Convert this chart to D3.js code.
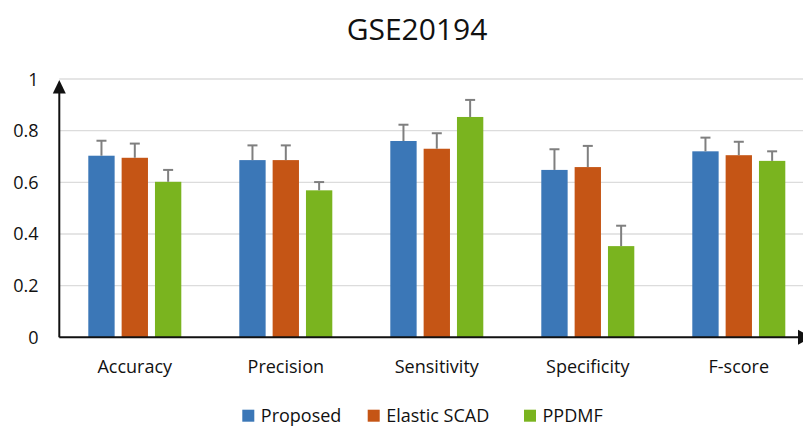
<!DOCTYPE html>
<html>
<head>
<meta charset="utf-8">
<script src="https://cdn.jsdelivr.net/npm/d3@7"></script>
<style>
  body { margin: 0; background: #fff; }
  svg { display: block; font-family: "Open Sans", sans-serif; }
</style>
</head>
<body>
<svg id="chart" width="803" height="426"></svg>
<script>
// Grouped bar chart with error bars - GSE20194

const categories = ['Accuracy', 'Precision', 'Sensitivity', 'Specificity', 'F-score'];
const seriesNames = ['Proposed', 'Elastic SCAD', 'PPDMF'];
const seriesColors = ['#3b77b7', '#c55515', '#7ab41f'];

const proposedValues = [0.703, 0.686, 0.760, 0.648, 0.720];
const elasticValues = [0.695, 0.686, 0.730, 0.659, 0.705];
const ppdmfValues = [0.602, 0.569, 0.853, 0.353, 0.683];

const proposedErrors = [0.058, 0.057, 0.063, 0.080, 0.053];
const elasticErrors = [0.055, 0.057, 0.060, 0.082, 0.052];
const ppdmfErrors = [0.046, 0.032, 0.066, 0.079, 0.037];

const yTicks = [0, 0.2, 0.4, 0.6, 0.8, 1];

const values = [proposedValues, elasticValues, ppdmfValues];
const errors = [proposedErrors, elasticErrors, ppdmfErrors];

const svg = d3.select('#chart');

const x0 = d3.scaleBand()
  .domain(categories)
  .range([59.3, 814.3])
  .paddingInner(0)
  .paddingOuter(0);

const x1 = d3.scaleBand()
  .domain(seriesNames)
  .range([29, x0.bandwidth() - 29])
  .paddingInner(0.21)
  .paddingOuter(0);

const y = d3.scaleLinear()
  .domain([0, 1])
  .range([337.3, 79]);

// title
svg.append('text')
  .attr('x', 417)
  .attr('y', 40)
  .attr('text-anchor', 'middle')
  .attr('font-size', 30)
  .attr('fill', '#111')
  .text('GSE20194');

// gridlines
svg.append('g')
  .selectAll('line')
  .data(yTicks.filter(d => d > 0))
  .join('line')
  .attr('x1', 59.3)
  .attr('x2', 803)
  .attr('y1', d => y(d))
  .attr('y2', d => y(d))
  .attr('stroke', '#dcdcdc')
  .attr('stroke-width', 1.3);

// y tick labels
svg.append('g')
  .selectAll('text')
  .data(yTicks)
  .join('text')
  .attr('x', 38.5)
  .attr('y', d => y(d) + 6.5)
  .attr('text-anchor', 'end')
  .attr('font-size', 18)
  .attr('fill', '#111')
  .text(d => d === 0 || d === 1 ? String(d) : d.toFixed(1));

// bars
const groups = svg.append('g')
  .selectAll('g')
  .data(categories)
  .join('g')
  .attr('transform', d => `translate(${x0(d)},0)`);

groups.selectAll('rect')
  .data((c, ci) => seriesNames.map((s, si) => ({ s, si, v: values[si][ci], e: errors[si][ci] })))
  .join('rect')
  .attr('x', d => x1(d.s))
  .attr('y', d => y(d.v))
  .attr('width', x1.bandwidth())
  .attr('height', d => y(0) - y(d.v))
  .attr('fill', d => seriesColors[d.si]);

// error bars (upper only)
const errG = groups.selectAll('g.err')
  .data((c, ci) => seriesNames.map((s, si) => ({ s, si, v: values[si][ci], e: errors[si][ci] })))
  .join('g')
  .attr('class', 'err');

errG.append('line')
  .attr('x1', d => x1(d.s) + x1.bandwidth() / 2)
  .attr('x2', d => x1(d.s) + x1.bandwidth() / 2)
  .attr('y1', d => y(d.v))
  .attr('y2', d => y(d.v + d.e))
  .attr('stroke', '#7f7f7f')
  .attr('stroke-width', 2);

errG.append('line')
  .attr('x1', d => x1(d.s) + x1.bandwidth() / 2 - 5)
  .attr('x2', d => x1(d.s) + x1.bandwidth() / 2 + 5)
  .attr('y1', d => y(d.v + d.e))
  .attr('y2', d => y(d.v + d.e))
  .attr('stroke', '#7f7f7f')
  .attr('stroke-width', 2);

// category labels
svg.append('g')
  .selectAll('text')
  .data(categories)
  .join('text')
  .attr('x', d => x0(d) + x0.bandwidth() / 2)
  .attr('y', 373)
  .attr('text-anchor', 'middle')
  .attr('font-size', 18)
  .attr('fill', '#111')
  .text(d => d);

// axes with arrows
svg.append('line')
  .attr('x1', 59.3).attr('x2', 800)
  .attr('y1', y(0)).attr('y2', y(0))
  .attr('stroke', '#111').attr('stroke-width', 2);

svg.append('path')
  .attr('d', `M 798 ${y(0) - 7.5} L 812 ${y(0)} L 798 ${y(0) + 7.5} Z`)
  .attr('fill', '#111');

svg.append('line')
  .attr('x1', 59.3).attr('x2', 59.3)
  .attr('y1', y(0)).attr('y2', 90)
  .attr('stroke', '#111').attr('stroke-width', 2);

svg.append('path')
  .attr('d', `M 52.8 93.5 L 59.3 80 L 65.8 93.5 Z`)
  .attr('fill', '#111');

// legend
const legendX = [242.3, 367.7, 524];
const legend = svg.append('g')
  .selectAll('g')
  .data(seriesNames)
  .join('g')
  .attr('transform', (d, i) => `translate(${legendX[i]},409.7)`);

legend.append('rect')
  .attr('width', 12)
  .attr('height', 12)
  .attr('fill', (d, i) => seriesColors[i]);

legend.append('text')
  .attr('x', 18.5)
  .attr('y', 12)
  .attr('font-size', 18)
  .attr('fill', '#111')
  .text(d => d);
</script>
</body>
</html>
